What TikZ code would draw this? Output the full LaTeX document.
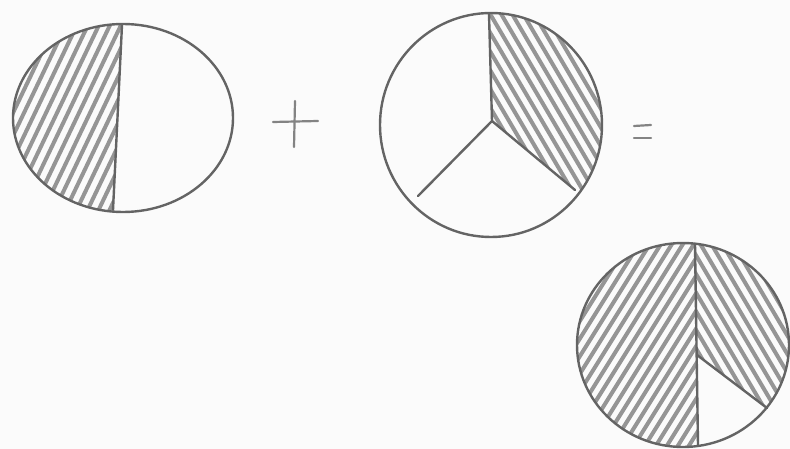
\documentclass[tikz,border=0pt]{standalone}
\usetikzlibrary{calc}
\definecolor{pencil}{RGB}{100,100,100}
\definecolor{shade}{RGB}{115,115,115}
\tikzset{
  outline/.style={draw=pencil, line width=2.4pt, line cap=round, line join=round},
  divider/.style={draw=pencil, line width=2.4pt, line cap=round},
  hatch/.style={draw=shade, line width=4pt, line cap=round, opacity=0.75},
  sign/.style={draw=pencil!80, line width=2.2pt, line cap=round}
}
\begin{document}
\begin{tikzpicture}[x=1pt,y=-1pt]
\useasboundingbox (0,0) rectangle (790,449);
\fill[white!97!gray] (0,0) rectangle (790,449);

% ---------- circle 1 : one half ----------
\coordinate (c1) at (123,118);
\coordinate (c1top) at (122,25);
\coordinate (c1bot) at (113,210);
\begin{scope}
  \clip (c1) ellipse [x radius=110, y radius=94];
  \clip (c1top) -- ($(c1top)!-0.3!(c1bot)$) -- (0,-20) -- (0,260) -- ($(c1bot)!-0.3!(c1top)$) -- cycle;
  \foreach \x in {-120,-109,...,160} \draw[hatch] (\x,230) -- ++(110,-230);
\end{scope}
\draw[outline] (c1) ellipse [x radius=110, y radius=94];
\draw[divider] (c1top) -- (c1bot);

% ---------- plus ----------
\coordinate (p1) at (273,122); \coordinate (p2) at (318,121);
\coordinate (p3) at (295,101); \coordinate (p4) at (294,147);
\draw[sign] (p1) -- (p2);
\draw[sign] (p3) -- (p4);

% ---------- circle 2 : one third ----------
\coordinate (c2) at (491,125);
\coordinate (m2) at (492,121);
\coordinate (t2) at (489,14);
\coordinate (l2) at (418,196);
\coordinate (r2) at (575,190);
\begin{scope}
  \clip (c2) ellipse [x radius=111, y radius=112];
  \clip (m2) -- ($(m2)!1.3!(t2)$) -- (650,-30) -- (650,250) -- ($(m2)!1.8!(r2)$) -- cycle;
  \foreach \x in {300,311,...,640} \draw[hatch] (\x,-10) -- ++(150,255);
\end{scope}
\draw[outline] (c2) ellipse [x radius=111, y radius=112];
\draw[divider] (t2) -- (m2) -- (l2);
\draw[divider] (m2) -- (r2);

% ---------- equals ----------
\coordinate (e1) at (634,126); \coordinate (e2) at (651,125);
\coordinate (e3) at (634,138); \coordinate (e4) at (651,138);
\draw[sign] (e1) -- (e2);
\draw[sign] (e3) -- (e4);

% ---------- circle 3 : five sixths ----------
\coordinate (c3) at (683,345);
\coordinate (t3) at (695,244);
\coordinate (b3) at (698,445);
\coordinate (m3) at (697,355);
\coordinate (r3) at (767,408);
\begin{scope}
  \clip (c3) ellipse [x radius=106, y radius=102];
  \clip (t3) -- ($(t3)!-0.3!(b3)$) -- (560,200) -- (560,480) -- ($(b3)!-0.3!(t3)$) -- cycle;
  \foreach \x in {460,471,...,760} \draw[hatch] (\x,460) -- ++(150,-240);
\end{scope}
\begin{scope}
  \clip (c3) ellipse [x radius=106, y radius=102];
  \clip (m3) -- ($(m3)!1.3!(t3)$) -- (820,200) -- (820,460) -- ($(m3)!1.8!(r3)$) -- cycle;
  \foreach \x in {560,571,...,800} \draw[hatch] (\x,230) -- ++(130,220);
\end{scope}
\draw[outline] (c3) ellipse [x radius=106, y radius=102];
\draw[divider] (t3) -- (b3);
\draw[divider] (m3) -- (r3);
\end{tikzpicture}
\end{document}
